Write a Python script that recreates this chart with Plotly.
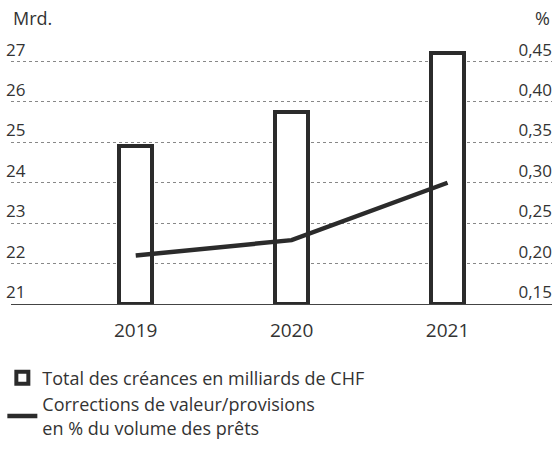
import plotly.graph_objects as go

years = ["2019", "2020", "2021"]
creances = [24.9, 25.75, 27.2]          # Mrd. CHF
corrections = [0.21, 0.229, 0.30]       # %
left_ticks = [21, 22, 23, 24, 25, 26, 27]
right_ticks = [0.15, 0.20, 0.25, 0.30, 0.35, 0.40, 0.45]

BASE = 21
TOP = 27.78
FONT = "Open Sans"
DARK = "#2b2b2b"
TXT = "#333333"

fig = go.Figure()
fig.add_trace(go.Bar(
    x=years, y=[v - BASE for v in creances], base=BASE,
    width=0.215, marker=dict(color="white", line=dict(color=DARK, width=4)),
    name="Total des créances en milliards de CHF", yaxis="y",
))
fig.add_trace(go.Scatter(
    x=years, y=corrections, mode="lines",
    line=dict(color=DARK, width=4.5),
    name="Corrections de valeur/provisions<br>en % du volume des prêts", yaxis="y2",
))

fig.update_layout(
    width=554, height=449,
    margin=dict(l=7, r=2, t=30, b=140),
    paper_bgcolor="white", plot_bgcolor="white",
    font=dict(family=FONT, size=18, color=TXT),
    separators=", ",
    showlegend=True,
    legend=dict(x=-0.016, y=-0.203, xanchor="left", yanchor="top",
                font=dict(size=18, color=TXT), tracegroupgap=4,
                traceorder="normal"),
    xaxis=dict(type="category", range=[-0.80, 2.67], showgrid=False,
               showline=True, linecolor="#444", linewidth=1.2,
               ticks="", ticklabelstandoff=9, tickfont=dict(size=19, color=TXT)),
    yaxis=dict(range=[BASE, TOP], tickvals=left_ticks,
               showgrid=True, gridcolor="#888", griddash="dot", gridwidth=1,
               zeroline=False, ticklabelposition="inside top", ticks="", ticklen=0,
               ticklabelstandoff=-8,
               tickfont=dict(size=17, color=TXT), fixedrange=True),
    yaxis2=dict(range=[0.15, 0.15 + (TOP - BASE) * 0.05], tickvals=right_ticks,
                tickformat=".2f", overlaying="y", side="right", ticks="", ticklen=0,
                ticklabelstandoff=-3,
                showgrid=False, zeroline=False, ticklabelposition="inside top",
                tickfont=dict(size=17, color=TXT)),
    bargap=0,
    annotations=[
        dict(text="Mrd.", xref="paper", yref="paper", x=0, y=1.043,
             xanchor="left", yanchor="middle", showarrow=False,
             font=dict(size=18, color=TXT)),
        dict(text="%", xref="paper", yref="paper", x=1, y=1.043,
             xanchor="right", yanchor="middle", showarrow=False,
             font=dict(size=18, color=TXT)),
    ],
)

fig.write_html(
    "out.html",
    config={"displayModeBar": False},
    post_script="document.body.style.margin='0';document.body.style.overflow='hidden';",
)
